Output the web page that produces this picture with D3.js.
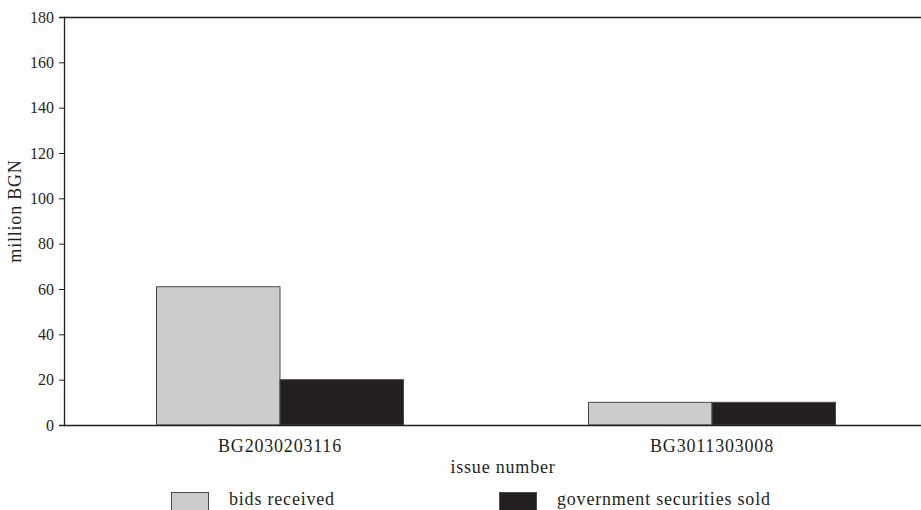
<!DOCTYPE html>
<html>
<head>
<meta charset="utf-8">
<script src="https://cdn.jsdelivr.net/npm/d3@7/dist/d3.min.js"></script>
<style>
  html, body { margin: 0; padding: 0; background: #ffffff; }
  svg { display: block; }
  text { font-family: "Liberation Serif", "Times New Roman", serif; fill: #231f20; }
</style>
</head>
<body>
<svg id="chart" width="921" height="510"></svg>
<script>
// ---- data ----
const categories = ["BG2030203116", "BG3011303008"];
const seriesNames = ["bids received", "government securities sold"];
const bidsReceived = [61, 10];
const securitiesSold = [20, 10];
const yTicks = [0, 20, 40, 60, 80, 100, 120, 140, 160, 180];
const seriesColors = ["#cccccc", "#231f20"];

(function () {
const W = 921, H = 510;
const mLeft = 64, mTop = 17, mBottom = 425;
const ink = "#231f20";
const labelSize = "18px", labelSpacing = "0.8px";

const svg = d3.select("#chart");

const x0 = d3.scaleBand().domain(categories).range([mLeft, 928])
  .paddingInner(0.4282).paddingOuter(0.2141);
const x1 = d3.scaleBand().domain(seriesNames).range([0, x0.bandwidth()]).padding(0);
const y = d3.scaleLinear().domain([0, 180]).range([mBottom, mTop]);
const color = d3.scaleOrdinal().domain(seriesNames).range(seriesColors);

const rows = categories.map((c, i) => ({
  cat: c,
  values: [
    { name: seriesNames[0], value: bidsReceived[i] },
    { name: seriesNames[1], value: securitiesSold[i] }
  ]
}));

// top frame line
svg.append("line")
  .attr("x1", mLeft).attr("x2", W).attr("y1", mTop + 0.5).attr("y2", mTop + 0.5)
  .attr("stroke", ink).attr("stroke-width", 1.3);

// bars
const g = svg.append("g");
g.selectAll("g.grp").data(rows).join("g")
  .attr("class", "grp")
  .attr("transform", d => `translate(${x0(d.cat)},0)`)
  .selectAll("rect").data(d => d.values).join("rect")
  .attr("x", d => x1(d.name))
  .attr("y", d => y(d.value))
  .attr("width", x1.bandwidth())
  .attr("height", d => y(0) - y(d.value))
  .attr("fill", d => color(d.name))
  .attr("stroke", "#4a4a4a")
  .attr("stroke-width", 1);

// y axis
const yAxis = d3.axisLeft(y).tickValues(yTicks).tickSize(5).tickPadding(5);
const gy = svg.append("g").attr("transform", `translate(${mLeft},0)`).call(yAxis);
gy.select(".domain").attr("stroke", ink).attr("stroke-width", 1.3);
gy.selectAll(".tick line").attr("stroke", ink);
gy.selectAll(".tick text").style("font-size", "16px").style("font-family", '"Liberation Serif", serif').attr("fill", ink);

// x axis
const xAxis = d3.axisBottom(x0).tickSize(0).tickPadding(14);
const gx = svg.append("g").attr("transform", `translate(0,${mBottom})`).call(xAxis);
gx.select(".domain").remove();
gx.append("line").attr("x1", mLeft).attr("x2", W).attr("y1", 0.5).attr("y2", 0.5)
  .attr("stroke", ink).attr("stroke-width", 1.3);
gx.selectAll(".tick text").style("font-size", labelSize).style("letter-spacing", labelSpacing)
  .style("font-family", '"Liberation Serif", serif').attr("fill", ink);

// axis titles
svg.append("text")
  .attr("x", 503).attr("y", 473)
  .attr("text-anchor", "middle")
  .style("font-size", labelSize).style("letter-spacing", labelSpacing)
  .text("issue number");

svg.append("text")
  .attr("transform", `translate(21,211) rotate(-90)`)
  .attr("text-anchor", "middle")
  .style("font-size", labelSize).style("letter-spacing", labelSpacing)
  .text("million BGN");

// legend
const legendX = [171, 499];
const leg = svg.append("g");
seriesNames.forEach((name, i) => {
  leg.append("rect")
    .attr("x", legendX[i] + 0.5).attr("y", 492.5)
    .attr("width", 37).attr("height", 22)
    .attr("fill", color(name))
    .attr("stroke", "#4a4a4a").attr("stroke-width", 1);
  leg.append("text")
    .attr("x", legendX[i] + 58).attr("y", 505)
    .style("font-size", labelSize).style("letter-spacing", labelSpacing)
    .text(name);
});
})();
</script>
</body>
</html>
